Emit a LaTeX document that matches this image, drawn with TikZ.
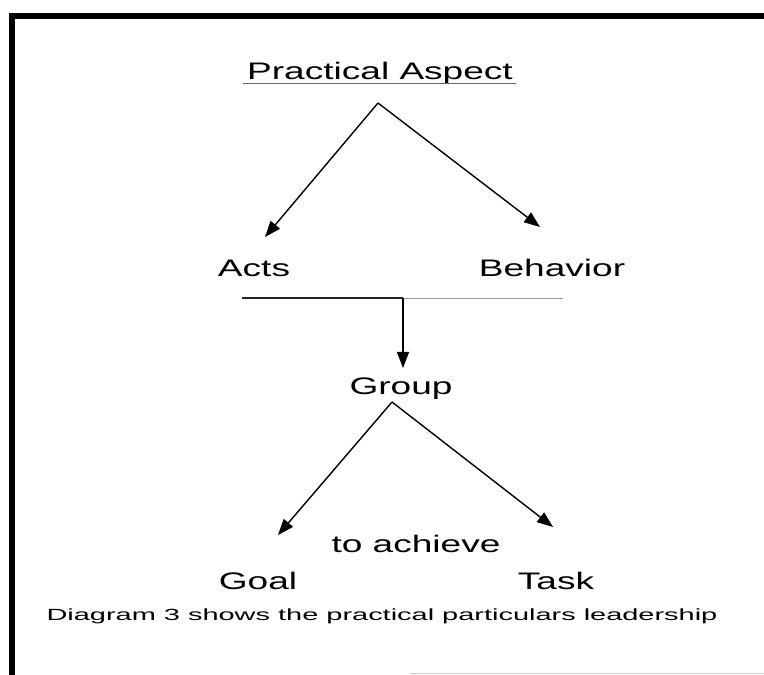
\documentclass[tikz,border=0pt]{standalone}
\usepackage{fontspec}
\setmainfont{Liberation Sans}
\usetikzlibrary{arrows.meta}
\tikzset{lbl/.style={font=\fontsize{17}{20}\selectfont, inner sep=0pt, anchor=base, xscale=1.55},
    capt/.style={font=\fontsize{11.5}{14}\selectfont, inner sep=0pt, anchor=base, xscale=1.79},
    arr/.style={line width=1pt, -{Triangle[length=0.4cm,width=0.3cm]}}
}
\begin{document}
\begin{tikzpicture}[x=0.025cm,y=-0.025cm]
           \useasboundingbox (0,0) rectangle (764,675);
           \draw[line width=4pt] (12,675) -- (12,16) -- (764,16);
           \draw[black!20,line width=0.4pt] (410,673) -- (764,673);
           \node[lbl] (title) at (380,80) {Practical Aspect};
           \draw[black!60,line width=0.6pt] (243,83) -- (516,83);
           \coordinate (top) at (378,103);
           \coordinate (actstip) at (265,237);
           \coordinate (behavtip) at (540,227);
           \draw[arr] (top) -- (actstip);
           \draw[arr] (top) -- (behavtip);
           \node[lbl] (acts) at (254,277) {Acts};
           \node[lbl] (behav) at (552,277) {Behavior};
           % joining bar
           \coordinate (barl) at (242,298);
           \coordinate (barm) at (403,298);
           \coordinate (barr) at (563,298);
           \draw[black!85,line width=0.8pt] (barl) -- (barm);
           \draw[black!40,line width=0.7pt] (barm) -- (barr);
           \coordinate (grouptip) at (403,368);
           \draw[arr] (barm) -- (grouptip);
           \node[lbl] (group) at (401,395) {Group};
           \coordinate (gtop) at (392,402);
           \coordinate (goaltip) at (278,535);
           \coordinate (tasktip) at (553,527);
           \draw[arr] (gtop) -- (goaltip);
           \draw[arr] (gtop) -- (tasktip);
           \node[lbl] (achieve) at (416,552) {to achieve};
           \node[lbl] (goal) at (258,589) {Goal};
           \node[lbl] (task) at (556,589) {Task};
           \node[capt] (caption) at (382,620) {Diagram 3 shows the practical particulars leadership};
         \end{tikzpicture}
\end{document}
